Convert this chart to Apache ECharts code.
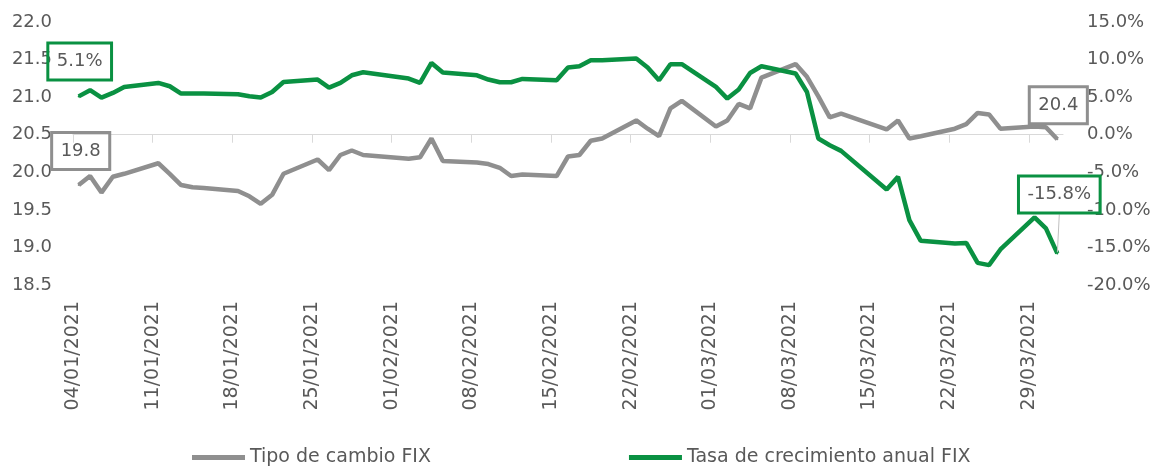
<!DOCTYPE html>
<html>
<head>
<meta charset="utf-8">
<script src="https://cdn.jsdelivr.net/npm/echarts@6/dist/echarts.min.js"></script>
<style>
  html, body { margin: 0; padding: 0; background: #fff; }
  #chart { width: 1155px; height: 469px; }
</style>
</head>
<body>
<div id="chart"></div>
<script>
// trading days (FIX), 2021
var fechas = [
  '2021-01-04', '2021-01-05', '2021-01-06', '2021-01-07', '2021-01-08',
  '2021-01-11', '2021-01-12', '2021-01-13', '2021-01-14', '2021-01-15',
  '2021-01-18', '2021-01-19', '2021-01-20', '2021-01-21', '2021-01-22',
  '2021-01-25', '2021-01-26', '2021-01-27', '2021-01-28', '2021-01-29',
  '2021-02-02', '2021-02-03', '2021-02-04', '2021-02-05',
  '2021-02-08', '2021-02-09', '2021-02-10', '2021-02-11', '2021-02-12',
  '2021-02-15', '2021-02-16', '2021-02-17', '2021-02-18', '2021-02-19',
  '2021-02-22', '2021-02-23', '2021-02-24', '2021-02-25', '2021-02-26',
  '2021-03-01', '2021-03-02', '2021-03-03', '2021-03-04', '2021-03-05',
  '2021-03-08', '2021-03-09', '2021-03-10', '2021-03-11', '2021-03-12',
  '2021-03-16', '2021-03-17', '2021-03-18', '2021-03-19',
  '2021-03-22', '2021-03-23', '2021-03-24', '2021-03-25', '2021-03-26',
  '2021-03-29', '2021-03-30', '2021-03-31'
]

// Tipo de cambio FIX (pesos por dolar)
var tipoCambio = [
  19.83, 19.95, 19.73, 19.94, 19.98,
  20.12, 19.98, 19.83, 19.80, 19.79,
  19.75, 19.68, 19.58, 19.70, 19.98,
  20.17, 20.03, 20.23, 20.29, 20.23,
  20.18, 20.20, 20.45, 20.15,
  20.13, 20.11, 20.06, 19.95, 19.97,
  19.95, 20.21, 20.23, 20.42, 20.45,
  20.69, 20.58, 20.48, 20.85, 20.95,
  20.61, 20.69, 20.91, 20.85, 21.26,
  21.44, 21.27, 21.01, 20.73, 20.78,
  20.57, 20.69, 20.45, 20.48,
  20.58, 20.64, 20.79, 20.77, 20.58,
  20.61, 20.60, 20.44
]

// Tasa de crecimiento anual FIX (%)
var tasaAnual = [
  5.1, 5.92, 4.94, 5.56, 6.36,
  6.89, 6.45, 5.48, 5.48, 5.48,
  5.39, 5.12, 4.94, 5.69, 7.02,
  7.34, 6.27, 6.89, 7.91, 8.31,
  7.47, 6.89, 9.55, 8.27,
  7.91, 7.34, 6.98, 6.98, 7.42,
  7.25, 8.94, 9.11, 9.91, 9.91,
  10.13, 8.94, 7.25, 9.38, 9.38,
  6.36, 4.81, 6.01, 8.22, 9.11,
  8.14, 5.69, -0.51, -1.40, -2.15,
  -7.29, -5.61, -11.37, -14.12,
  -14.47, -14.40, -17.05, -17.35, -15.27,
  -11.01, -12.47, -15.8
]

// weekly ticks on the date axis (days from 04/01/2021)
var ticksX = [0, 7, 14, 21, 28, 35, 42, 49, 56, 63, 70, 77, 84]

var DAY = 86400000
var inicio = Date.UTC(2021, 0, 4)
var fin = Date.UTC(2021, 3, 1)

function diaDe (s) {
  var p = s.split('-')
  return (Date.UTC(+p[0], +p[1] - 1, +p[2]) - inicio) / DAY
}

function etiquetaFecha (d) {
  var f = new Date(inicio + d * DAY)
  var dd = ('0' + f.getUTCDate()).slice(-2)
  var mm = ('0' + (f.getUTCMonth() + 1)).slice(-2)
  return dd + '/' + mm + '/' + f.getUTCFullYear()
}

var gris = '#8f8f8f'
var verde = '#0a9142'
var textoEje = '#595959'
var fuente = 'DejaVu Sans'

function caja (color, offset) {
  return {
    show: true,
    position: 'inside',
    offset: offset,
    color: textoEje,
    fontFamily: fuente,
    fontSize: 18,
    lineHeight: 20,
    padding: [9, 9, 8, 9],
    borderColor: color,
    borderWidth: 3
  }
}

var ultimo = fechas.length - 1

var datosCambio = fechas.map(function (f, i) {
  var item = { value: [diaDe(f) + 0.5, tipoCambio[i]] }
  if (i === 0) {
    item.symbol = 'circle'
    item.symbolSize = 2
    item.label = caja(gris, [2, -34])
  }
  if (i === ultimo) {
    item.symbol = 'circle'
    item.symbolSize = 2
    item.label = caja(gris, [1, -34])
  }
  return item
})

var datosTasa = fechas.map(function (f, i) {
  var item = { value: [diaDe(f) + 0.5, tasaAnual[i]] }
  if (i === 0) {
    item.symbol = 'circle'
    item.symbolSize = 2
    item.label = caja(verde, [0, 0])
  }
  if (i === ultimo) {
    item.symbol = 'circle'
    item.symbolSize = 2
    item.label = caja(verde, [0, 0])
    item.labelLine = { show: true, lineStyle: { color: '#bfbfbf', width: 1 } }
  }
  return item
})

var chart = echarts.init(document.getElementById('chart'))
chart.setOption({
  animation: false,
  textStyle: { fontFamily: fuente },
  grid: { left: 73, right: 92, top: 22, bottom: 184 },
  legend: {
    left: 187,
    top: 443,
    icon: 'rect',
    itemWidth: 53,
    itemHeight: 5,
    itemGap: 198,
    textStyle: { color: textoEje, fontSize: 19, fontFamily: fuente },
    data: ['Tipo de cambio FIX', 'Tasa de crecimiento anual FIX']
  },
  xAxis: {
    type: 'value',
    min: 0,
    max: (fin - inicio) / DAY,
    interval: 7,
    splitLine: { show: false },
    axisLine: { show: true, lineStyle: { color: '#d9d9d9', width: 1 } },
    axisTick: { show: true, length: 8, customValues: ticksX, lineStyle: { color: '#d9d9d9' } },
    axisLabel: {
      customValues: ticksX,
      rotate: 90,
      margin: 16,
      color: textoEje,
      fontSize: 19,
      fontFamily: fuente,
      formatter: function (v) { return etiquetaFecha(v) }
    }
  },
  yAxis: [
    {
      type: 'value',
      min: 18.5,
      max: 22,
      interval: 0.5,
      splitLine: { show: false },
      axisLine: { show: false },
      axisTick: { show: false },
      axisLabel: {
        margin: 21,
        color: textoEje,
        fontSize: 18,
        fontFamily: fuente,
        formatter: function (v) { return v.toFixed(1) }
      }
    },
    {
      type: 'value',
      min: -20,
      max: 15,
      interval: 5,
      splitLine: { show: false },
      axisLine: { show: false },
      axisTick: { show: false },
      axisLabel: {
        margin: 24,
        color: textoEje,
        fontSize: 18,
        fontFamily: fuente,
        formatter: function (v) { return v.toFixed(1) + '%' }
      }
    }
  ],
  series: [
    {
      name: 'Tipo de cambio FIX',
      type: 'line',
      yAxisIndex: 0,
      symbol: 'none',
      showSymbol: true,
      color: gris,
      lineStyle: { color: gris, width: 4.5 },
      label: { formatter: function (p) { return p.value[1].toFixed(1) } },
      data: datosCambio
    },
    {
      name: 'Tasa de crecimiento anual FIX',
      type: 'line',
      yAxisIndex: 1,
      symbol: 'none',
      showSymbol: true,
      color: verde,
      lineStyle: { color: verde, width: 4.5 },
      label: { formatter: function (p) { return p.value[1].toFixed(1) + '%' } },
      labelLayout: function (p) {
        if (p.dataIndex === ultimo) return { dx: 2, dy: -59 }
        if (p.dataIndex === 0) return { dx: 1, dy: -35 }
        return {}
      },
      data: datosTasa
    }
  ]
})
</script>
</body>
</html>
